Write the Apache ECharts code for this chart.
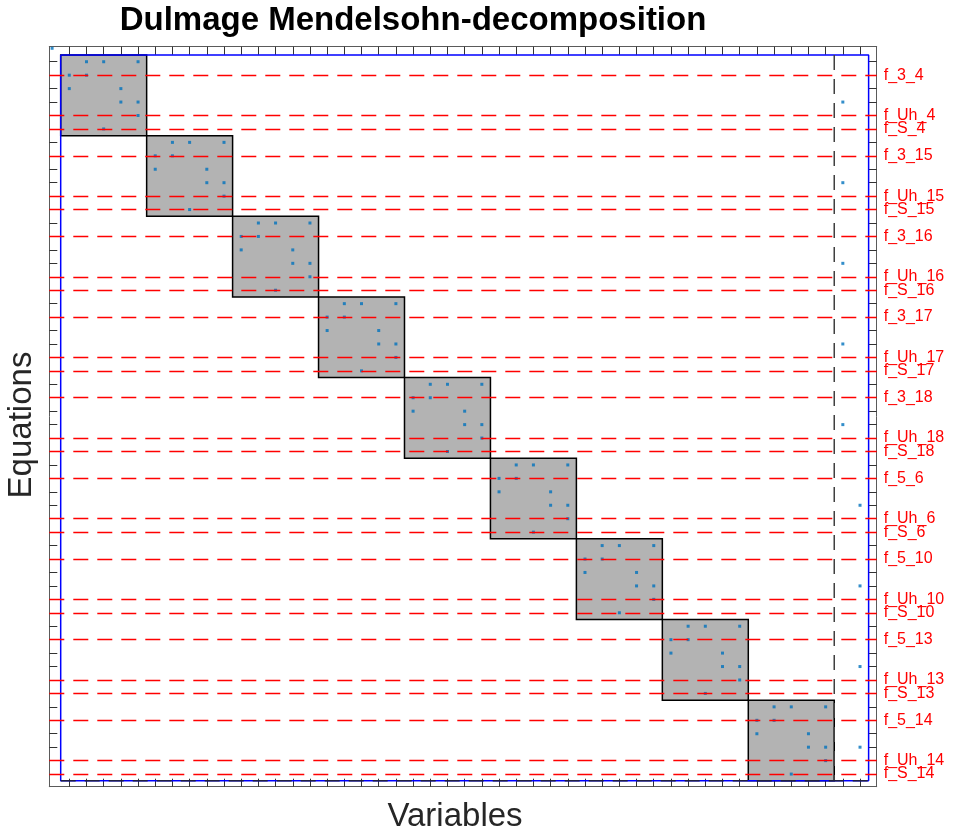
<!DOCTYPE html>
<html>
<head>
<meta charset="utf-8">
<script src="https://cdn.jsdelivr.net/npm/echarts@6/dist/echarts.min.js"></script>
<style>html,body{margin:0;padding:0;background:#fff;}#chart{width:953px;height:835px;}</style>
</head>
<body>
<div id="chart"></div>
<script>
// ---- data ----
const titleText = 'Dulmage Mendelsohn-decomposition';
const xLabelText = 'Variables';
const yLabelText = 'Equations';
const nCols = 47;
const nRows = 54;
// diagonal blocks: [first column, last column] and [first row, last row]
const blockCols = [[0,4],[5,9],[10,14],[15,19],[20,24],[25,29],[30,34],[35,39],[40,44]];
const blockRows = [[0,5],[6,11],[12,17],[18,23],[24,29],[30,35],[36,41],[42,47],[48,53]];
// nonzero entries [column, row]
const nonzeros = [
  [-1,-1],
  [1,0],[2,0],[4,0],[0,1],[1,1],[0,2],[3,2],[3,3],[4,3],[4,4],[2,5],
  [6,6],[7,6],[9,6],[5,7],[6,7],[5,8],[8,8],[8,9],[9,9],[9,10],[7,11],
  [11,12],[12,12],[14,12],[10,13],[11,13],[10,14],[13,14],[13,15],[14,15],[14,16],[12,17],
  [16,18],[17,18],[19,18],[15,19],[16,19],[15,20],[18,20],[18,21],[19,21],[19,22],[17,23],
  [21,24],[22,24],[24,24],[20,25],[21,25],[20,26],[23,26],[23,27],[24,27],[24,28],[22,29],
  [26,30],[27,30],[29,30],[25,31],[26,31],[25,32],[28,32],[28,33],[29,33],[29,34],[27,35],
  [31,36],[32,36],[34,36],[30,37],[31,37],[30,38],[33,38],[33,39],[34,39],[34,40],[32,41],
  [36,42],[37,42],[39,42],[35,43],[36,43],[35,44],[38,44],[38,45],[39,45],[39,46],[37,47],
  [41,48],[42,48],[44,48],[40,49],[41,49],[40,50],[43,50],[43,51],[44,51],[44,52],[42,53],
  [45,3],[45,9],[45,15],[45,21],[45,27],[46,33],[46,39],[46,45],[46,51]
];
// highlighted equations (rows) and their names
const eqRows = [1,4,5,7,10,11,13,16,17,19,22,23,25,28,29,31,34,35,37,40,41,43,46,47,49,52,53];
const eqNames = ['f_3_4','f_Uh_4','f_S_4','f_3_15','f_Uh_15','f_S_15','f_3_16','f_Uh_16','f_S_16',
  'f_3_17','f_Uh_17','f_S_17','f_3_18','f_Uh_18','f_S_18','f_5_6','f_Uh_6','f_S_6',
  'f_5_10','f_Uh_10','f_S_10','f_5_13','f_Uh_13','f_S_13','f_5_14','f_Uh_14','f_S_14'];
// partition boundary (square part ends after this column)
const squareColEnd = 44;
// ---- chart ----
const colTicks = Array.from({length:nCols}, (_, i) => i);
const rowTicks = Array.from({length:nRows}, (_, i) => i);
const nameOf = {};
eqRows.forEach((r, i) => { nameOf[r] = eqNames[i]; });
// split label rows so ECharts' edge-overlap check never drops one
const lastRow = eqRows[eqRows.length - 1];
const labelRowsA = eqRows.filter(r => r !== lastRow);
const labelRowsB = [lastRow];

const FONT = '"Liberation Sans", Arial, Helvetica, sans-serif';
const xMin = -1.163, xMax = 46.97, yMin = -1.118, yMax = 53.94;

function xAxisDef(pos) {
  return {
    type:'value', position:pos, min:xMin, max:xMax,
    axisLine:{show:true, onZero:false, lineStyle:{color:'#5a5a5a', width:1}},
    axisTick:{show:true, inside:true, length:8, customValues:colTicks, lineStyle:{color:'#333', width:1}},
    axisLabel:{show:false}, splitLine:{show:false}
  };
}
function yAxisDef(pos, labelRows, showFrame) {
  return {
    type:'value', position:pos, offset:0, min:yMin, max:yMax, inverse:true,
    axisLine:{show:showFrame, onZero:false, lineStyle:{color:'#5a5a5a', width:1}},
    axisTick:{show:showFrame, inside:true, length:8, customValues:rowTicks, lineStyle:{color:'#333', width:1}},
    axisLabel: labelRows ? {show:true, customValues:labelRows, formatter:(v) => nameOf[Math.round(v)] || '',
      color:'#ff0000', fontSize:16, fontFamily:FONT, margin:7,
      showMinLabel:true, showMaxLabel:true, hideOverlap:false} : {show:false},
    splitLine:{show:false}
  };
}

const blockData = blockCols.map((c, i) => [c[0]-0.5, c[1]+0.5, blockRows[i][0]-0.5, blockRows[i][1]+0.5]);

const chart = echarts.init(document.getElementById('chart'), null, {renderer:'canvas'});
chart.setOption({
  animation:false,
  backgroundColor:'#ffffff',
  grid:{left:49.3, top:46.7, width:827.4, height:740},
  xAxis:[xAxisDef('bottom'), xAxisDef('top')],
  yAxis:[yAxisDef('left', null, true), yAxisDef('right', labelRowsA, true), yAxisDef('right', labelRowsB, false)],
  graphic:[
    {type:'text', x:413, y:21, style:{text:titleText, font:'bold 33px ' + FONT, fill:'#000', textAlign:'center', textVerticalAlign:'middle'}},
    {type:'text', x:455, y:817, style:{text:xLabelText, font:'33px ' + FONT, fill:'#262626', textAlign:'center', textVerticalAlign:'middle'}},
    {type:'text', x:22, y:425, rotation:Math.PI/2, style:{text:yLabelText, font:'33px ' + FONT, fill:'#262626', textAlign:'center', textVerticalAlign:'middle'}}
  ],
  series:[
    {
      type:'custom', xAxisIndex:0, yAxisIndex:0, z:1, silent:true,
      data:blockData,
      renderItem:(params, api) => {
        const p0 = api.coord([api.value(0), api.value(2)]);
        const p1 = api.coord([api.value(1), api.value(3)]);
        return {type:'rect', shape:{x:p0[0], y:p0[1], width:p1[0]-p0[0], height:p1[1]-p0[1]},
          style:{fill:'#b3b3b3', stroke:'#000', lineWidth:1.5}};
      }
    },
    {
      type:'scatter', xAxisIndex:0, yAxisIndex:0, z:2, silent:true,
      symbol:'rect', symbolSize:3, itemStyle:{color:'#0072bd'},
      data:nonzeros
    },
    {
      type:'line', xAxisIndex:0, yAxisIndex:0, z:3, silent:true, symbol:'none', data:[],
      markLine:{silent:true, symbol:'none', label:{show:false},
        lineStyle:{color:'#ff0000', width:1.4, type:[15,9]},
        data:eqRows.map(r => ({yAxis:r}))}
    },
    {
      type:'line', xAxisIndex:0, yAxisIndex:0, z:4, silent:true, symbol:'none',
      lineStyle:{color:'#0000ff', width:1.5},
      data:[[-0.5,-0.5],[nCols-0.5,-0.5],[nCols-0.5,nRows-0.5],[-0.5,nRows-0.5],[-0.5,-0.5]]
    },
    {
      type:'line', xAxisIndex:0, yAxisIndex:0, z:5, silent:true, symbol:'none',
      lineStyle:{color:'#404040', width:1.5, type:[15,9]},
      data:[[squareColEnd+0.5,-0.5],[squareColEnd+0.5,nRows-0.5]]
    },
    {
      type:'line', xAxisIndex:0, yAxisIndex:0, z:5, silent:true, symbol:'none',
      lineStyle:{color:'#202040', width:1.5, type:[15,9]},
      data:[[-0.5,nRows-0.5],[nCols-0.5,nRows-0.5]]
    }
  ]
});
</script>
</body>
</html>
